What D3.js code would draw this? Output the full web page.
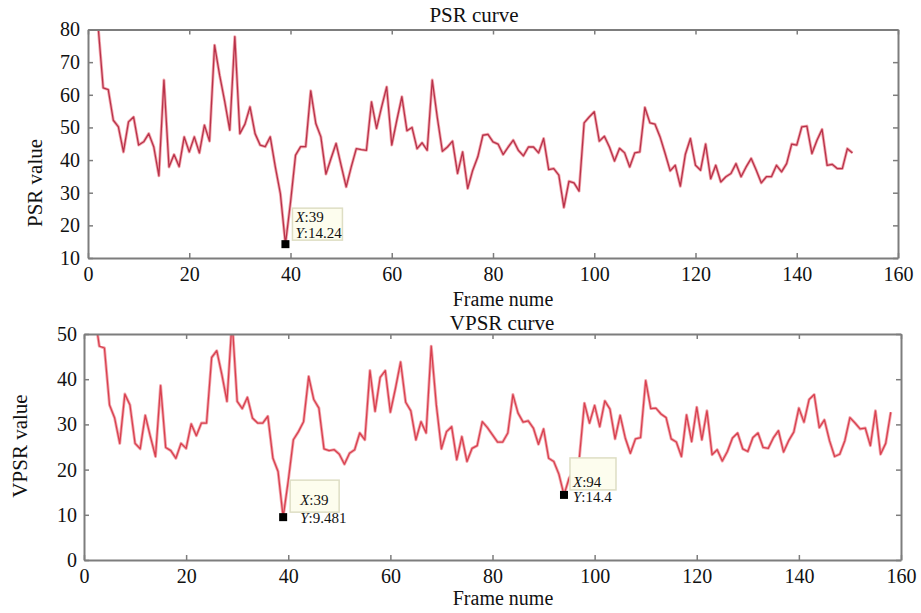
<!DOCTYPE html>
<html>
<head>
<meta charset="utf-8">
<script src="https://cdnjs.cloudflare.com/ajax/libs/d3/7.8.5/d3.min.js"></script>
<style>
  body { margin: 0; background: #ffffff; }
  svg text { font-family: "Liberation Serif", "Times New Roman", serif; fill: #111; }
</style>
</head>
<body>
<div id="content"></div>
<script>
// PSR per frame, frames 1..151
var psrValues = [
  92, 81, 62.1, 61.6, 52.2, 50.2, 42.5, 51.7, 53.2, 44.6,
  45.6, 48.1, 44, 35.2, 64.5, 37.9, 41.7, 38, 47.1, 42.5,
  47.1, 42.2, 50.7, 45.8, 75.2, 66, 58, 49.2, 77.8, 48.1,
  51, 56.3, 48.1, 44.6, 44.1, 47.1, 37.9, 29.7, 14.24, 27,
  41.5, 44.1, 44.1, 61.2, 51.2, 47.1, 35.7, 40.5, 45.1, 38.4,
  31.8, 37.9, 43.5, 43.2, 43, 57.8, 49.7, 56.3, 62.4, 44.6,
  52.2, 59.4, 49, 50, 43.5, 45.3, 43, 64.5, 53, 42.7,
  44, 45.8, 35.9, 42.5, 31.3, 36.9, 41, 47.6, 47.9, 45.6,
  44.9, 41.7, 44, 46.1, 43, 41.3, 44, 44, 42.2, 46.6,
  37.1, 37.4, 35.4, 25.5, 33.5, 33, 30.5, 51.4, 53.2, 54.8,
  45.8, 47.3, 44, 39.7, 43.6, 42.2, 37.9, 42.2, 42.5, 56.1,
  51.4, 51, 47.1, 42, 36.7, 38.4, 32, 41.8, 46.6, 38.4,
  36.9, 44.9, 34.3, 38.4, 33.3, 34.9, 35.9, 38.9, 34.9, 37.9,
  40.5, 36.9, 33, 34.9, 34.9, 38.4, 36.4, 38.9, 44.9, 44.6,
  50.2, 50.4, 42, 46.1, 49.4, 38.4, 38.7, 37.4, 37.4, 43.5,
  42.2
];

// VPSR per frame, frames 1..158
var vpsrValues = [
  60, 55, 47.3, 46.9, 34.3, 31.4, 25.8, 36.7, 34.3, 25.8,
  24.6, 32, 27.3, 22.9, 38.6, 24.9, 24.2, 22.5, 25.8, 24.7,
  30.1, 27.5, 30.3, 30.3, 44.8, 46.3, 41, 35.1, 53, 35.1,
  33.5, 36, 31.4, 30.3, 30.3, 31.8, 22.5, 19.6, 9.481, 17.5,
  26.6, 28.4, 30.6, 40.6, 35.5, 33.6, 24.6, 24.2, 24.4, 23.4,
  21.2, 23.6, 24.4, 28.1, 26.6, 41.9, 32.9, 40.4, 41.9, 32.7,
  38, 43.8, 34.9, 33, 26.6, 30.6, 28.1, 47.3, 34.3, 24.6,
  28.4, 29.5, 22.2, 27.3, 21.8, 24.7, 25.3, 30.6, 29.3, 27.7,
  26.1, 26.1, 28.1, 36.6, 32.5, 30.5, 30.8, 29.2, 25.6, 29,
  22.5, 21.8, 19, 14.4, 18.1, 20, 22.5, 34.7, 30.3, 34.2,
  29.5, 35.2, 33.4, 26.8, 32, 27, 23.6, 26.8, 27.1, 39.7,
  33.5, 33.6, 32.3, 31.5, 26.8, 26.1, 22.9, 32.1, 26.2, 33.8,
  26.6, 33, 23.3, 24.4, 21.9, 24, 27, 28.1, 24.6, 24,
  27.1, 28.1, 24.9, 24.7, 27, 28.6, 23.9, 26.4, 28.3, 33.6,
  30.5, 35.5, 36.6, 29.3, 31, 26.4, 22.9, 23.4, 26.4, 31.5,
  30.3, 29, 29.2, 25.3, 33, 23.4, 25.8, 32.7
];

var xTicks = [0, 20, 40, 60, 80, 100, 120, 140, 160];
var psrTicks = [10, 20, 30, 40, 50, 60, 70, 80];
var vpsrTicks = [0, 10, 20, 30, 40, 50];

// data tips (frame, value)
var psrTips = [[39, 14.24]];
var vpsrTips = [[39, 9.481], [94, 14.4]];

var W = 921, H = 613;

var svg = d3.select("#content").append("svg")
    .attr("width", W)
    .attr("height", H)
    .style("background", "#ffffff");

function drawPanel(o){
    var x = d3.scaleLinear().domain([0, 160]).range([o.left, o.right]);
    var y = d3.scaleLinear().domain(o.yDomain).range([o.bottom, o.top]);
    var g = svg.append("g");

    g.append("rect")
        .attr("x", o.left).attr("y", o.top)
        .attr("width", o.right - o.left).attr("height", o.bottom - o.top)
        .attr("fill", "#ffffff");

    var clipId = "clip" + o.id;
    g.append("clipPath").attr("id", clipId)
      .append("rect")
        .attr("x", o.left).attr("y", o.top)
        .attr("width", o.right - o.left).attr("height", o.bottom - o.top);

    var line = d3.line()
        .x(function(d, i){ return x(i + 1); })
        .y(function(d){ return y(d); });

    // soft halo then core, the source picture is a bit blurred
    g.append("path")
        .datum(o.values)
        .attr("clip-path", "url(#" + clipId + ")")
        .attr("d", line)
        .attr("fill", "none")
        .attr("stroke", "#f2a7ae")
        .attr("stroke-width", 3)
        .attr("stroke-linejoin", "round");
    g.append("path")
        .datum(o.values)
        .attr("clip-path", "url(#" + clipId + ")")
        .attr("d", line)
        .attr("fill", "none")
        .attr("stroke", o.color)
        .attr("stroke-width", 1.3)
        .attr("stroke-linejoin", "round");

    // axes, ticks pointing inward on all four sides
    var axB = g.append("g").attr("transform", "translate(0," + o.bottom + ")")
        .call(d3.axisBottom(x).tickValues(xTicks).tickSize(-5).tickSizeOuter(0).tickPadding(9));
    var axT = g.append("g").attr("transform", "translate(0," + o.top + ")")
        .call(d3.axisTop(x).tickValues(xTicks).tickSize(-5).tickSizeOuter(0).tickFormat(""));
    var axL = g.append("g").attr("transform", "translate(" + o.left + ",0)")
        .call(d3.axisLeft(y).tickValues(o.yTicks).tickSize(-5).tickSizeOuter(0).tickPadding(o.yPad));
    var axR = g.append("g").attr("transform", "translate(" + o.right + ",0)")
        .call(d3.axisRight(y).tickValues(o.yTicks).tickSize(-5).tickSizeOuter(0).tickFormat(""));

    [axB, axT, axL, axR].forEach(function(a){
        a.select(".domain").attr("stroke", "#7d7d7d").attr("stroke-width", 2);
        a.selectAll(".tick line").attr("stroke", "#7d7d7d").attr("stroke-width", 1.5);
        a.selectAll(".tick text")
            .style("font-family", "'Liberation Serif', serif")
            .attr("font-size", 20)
            .attr("fill", "#111");
    });

    // titles and labels
    g.append("text")
        .attr("x", o.titleX).attr("y", o.titleY)
        .attr("text-anchor", "middle")
        .attr("font-size", 21)
        .text(o.title);
    g.append("text")
        .attr("x", 503).attr("y", o.xlabelY)
        .attr("text-anchor", "middle")
        .attr("font-size", 20)
        .text("Frame nume");
    g.append("text")
        .attr("transform", "translate(" + o.ylabelX + "," + o.ylabelY + ") rotate(-90)")
        .attr("text-anchor", "middle")
        .attr("font-size", 21)
        .text(o.ylabel);

    // data tips
    o.tips.forEach(function(t, i){
        var px = x(t[0]), py = y(t[1]);
        var L = o.tipLayout[i];
        g.append("rect")
            .attr("x", px + L.bx).attr("y", py + L.by)
            .attr("width", L.bw).attr("height", 32)
            .attr("fill", "#fdfdee")
            .attr("stroke", "#dedec4")
            .attr("stroke-width", 1.5);
        var tx = g.append("text").attr("x", px + L.tx).attr("y", py + L.ty1).attr("font-size", 15);
        tx.append("tspan").attr("font-style", "italic").text("X");
        tx.append("tspan").text(":" + t[0]);
        var ty = g.append("text").attr("x", px + L.tx).attr("y", py + L.ty2).attr("font-size", 15);
        ty.append("tspan").attr("font-style", "italic").text("Y");
        ty.append("tspan").text(":" + t[1]);
        g.append("rect")
            .attr("x", px - 4).attr("y", py - 4)
            .attr("width", 8).attr("height", 8)
            .attr("fill", "#000");
    });
}

drawPanel({
    id: "psr", values: psrValues, yDomain: [10, 80], yTicks: psrTicks,
    left: 88, right: 898, top: 29.5, bottom: 258, yPad: 8,
    color: "#b8324a",
    title: "PSR curve", titleX: 474, titleY: 22,
    xlabelY: 306, ylabel: "PSR value", ylabelX: 42, ylabelY: 183,
    tips: psrTips,
    tipLayout: [{bx: 7, by: -36, bw: 50, tx: 10, ty1: -22, ty2: -6}]
});

drawPanel({
    id: "vpsr", values: vpsrValues, yDomain: [0, 50], yTicks: vpsrTicks,
    left: 84, right: 901, top: 334, bottom: 560, yPad: 7,
    color: "#d8404f",
    title: "VPSR curve", titleX: 502, titleY: 330,
    xlabelY: 605, ylabel: "VPSR value", ylabelX: 27, ylabelY: 446,
    tips: vpsrTips,
    tipLayout: [
        {bx: 7, by: -37, bw: 49, tx: 17, ty1: -12, ty2: 6},
        {bx: 6, by: -37, bw: 46, tx: 9, ty1: -8, ty2: 7}
    ]
});
</script>
</body>
</html>
